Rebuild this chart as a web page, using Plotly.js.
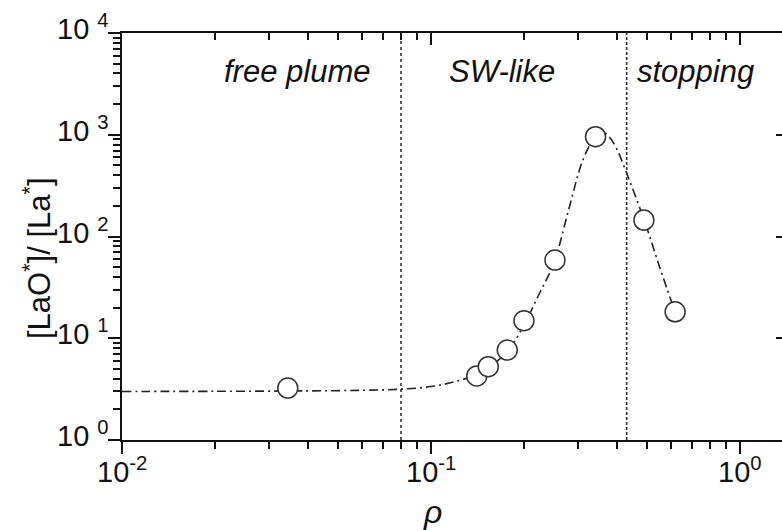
<!DOCTYPE html>
<html>
<head>
<meta charset="utf-8">
<script src="https://cdn.plot.ly/plotly-3.0.1.min.js"></script>
<style>
  html, body { margin: 0; padding: 0; overflow: hidden; background: #fff; width: 782px; height: 530px; }
  #chart { width: 800px; height: 530px; }
</style>
</head>
<body>
<div id="chart"></div>
<script>
// Measured points
const rho = [0.0344, 0.1407, 0.1533, 0.1766, 0.200, 0.252, 0.341, 0.489, 0.617];
const ratio = [3.24, 4.26, 5.25, 7.66, 14.9, 58.7, 957, 145, 18.2];

// Fit curve (dash-dot)
const fitRho = [0.01, 0.02, 0.04, 0.06, 0.08, 0.1, 0.12, 0.14, 0.16, 0.18, 0.2, 0.225, 0.25, 0.28, 0.31, 0.34, 0.36, 0.38, 0.4, 0.425, 0.49, 0.55, 0.617];
const fitRatio = [3.0, 3.01, 3.04, 3.08, 3.16, 3.35, 3.75, 4.4, 5.6, 8.0, 13.5, 28, 55, 190, 560, 950, 1060, 930, 720, 460, 145, 50, 18];

// Regime boundaries
const boundaryRho = [0.08, 0.43];
const boundaryDash = ['dot', '3px,2px'];

// Regime labels
const regimeLabels = ['free plume', 'SW-like', 'stopping'];

// Axis titles
const xTitle = '<i>ρ</i>';
const yTitle = '[LaO<sup>*</sup>]/ [La<sup>*</sup>]';

// Ticks and tick labels
const yTickVals = [1, 10, 100, 1000, 10000];
const yTickText = ['10 <sup>0</sup>', '10 <sup>1</sup>', '10 <sup>2</sup>', '10 <sup>3</sup>', '10 <sup>4</sup>'];
const xTickVals = [0.01, 0.1, 1];
const xTickText = ['10<sup>-2</sup>', '10<sup>-1</sup>', '10<sup>0</sup>'];
const yMinorVals = [2, 3, 4, 5, 6, 7, 8, 9, 20, 30, 40, 50, 60, 70, 80, 90, 200, 300, 400, 500, 600, 700, 800, 900, 2000, 3000, 4000, 5000, 6000, 7000, 8000, 9000];
const xMinorVals = [0.02, 0.03, 0.04, 0.05, 0.06, 0.07, 0.08, 0.09, 0.2, 0.3, 0.4, 0.5, 0.6, 0.7, 0.8, 0.9, 2, 3, 4, 5];

const xRange = [-2, Math.log10(1.41)];
const yRange = [0, 4];
const FONT = 'Liberation Sans, Arial, sans-serif';
const INK = '#111';

const traces = [];
boundaryRho.forEach((b, i) => {
  traces.push({
    x: [b, b], y: [yTickVals[0], yTickVals[yTickVals.length - 1]],
    xaxis: 'x2', yaxis: 'y2',
    mode: 'lines', line: {color: '#333', width: 1.6, dash: boundaryDash[i]},
    hoverinfo: 'skip', showlegend: false
  });
});
traces.push({
  x: fitRho, y: fitRatio, mode: 'lines',
  line: {color: '#222', width: 1.6, dash: '9px,4px,2px,4px', shape: 'spline', smoothing: 1},
  showlegend: false, hoverinfo: 'skip'
});
traces.push({
  x: rho, y: ratio, mode: 'markers',
  marker: {symbol: 'circle', size: 20, color: '#fff', line: {color: '#333', width: 1.5}},
  showlegend: false
});

const annotations = [];
const annX = [0.2636, 0.572, 0.864];
regimeLabels.forEach((t, i) => annotations.push({
  text: '<i>' + t + '</i>', xref: 'paper', yref: 'paper', x: annX[i], y: 0.905,
  showarrow: false, font: {family: FONT, size: 31, color: INK}, xanchor: 'center', yanchor: 'middle'
}));
annotations.push({
  text: yTitle, xref: 'paper', yref: 'paper', x: -0.128, y: 0.447, textangle: -90,
  showarrow: false, font: {family: FONT, size: 31, color: INK}, xanchor: 'center', yanchor: 'middle'
});
annotations.push({
  text: xTitle, xref: 'paper', yref: 'paper', x: 0.467, y: -0.177,
  showarrow: false, font: {family: FONT, size: 32, color: INK}, xanchor: 'center', yanchor: 'middle'
});
// tick labels
xTickVals.forEach((v, i) => annotations.push({
  text: xTickText[i], xref: 'x', yref: 'paper', x: Math.log10(v), y: -0.074,
  showarrow: false, font: {family: FONT, size: 29, color: INK}, xanchor: 'center', yanchor: 'middle'
}));
yTickVals.forEach((v, i) => annotations.push({
  text: yTickText[i], xref: 'paper', yref: 'y', x: -0.017, y: Math.log10(v), yshift: 6,
  showarrow: false, font: {family: FONT, size: 29, color: INK}, xanchor: 'right', yanchor: 'middle'
}));

const layout = {
  width: 800, height: 530,
  margin: {l: 122, r: 14, t: 33, b: 90},
  paper_bgcolor: '#fff', plot_bgcolor: '#fff',
  font: {family: FONT, color: INK, size: 22},
  xaxis: {type: 'log', range: xRange, showgrid: false, zeroline: false, showline: true,
    linecolor: INK, linewidth: 2, showticklabels: false,
    tickmode: 'array', tickvals: xTickVals, ticks: 'outside', ticklen: 12, tickwidth: 2, tickcolor: INK,
    minor: {tickmode: 'array', tickvals: xMinorVals, ticks: 'outside', ticklen: 7, tickwidth: 2, tickcolor: INK}},
  xaxis2: {type: 'log', range: xRange, overlaying: 'x', side: 'top', anchor: 'y2',
    showgrid: false, zeroline: false, showline: true, linecolor: INK, linewidth: 2, showticklabels: false,
    tickmode: 'array', tickvals: xTickVals, ticks: 'inside', ticklen: 12, tickwidth: 2, tickcolor: INK,
    minor: {tickmode: 'array', tickvals: xMinorVals, ticks: 'inside', ticklen: 7, tickwidth: 2, tickcolor: INK}},
  yaxis: {type: 'log', range: yRange, showgrid: false, zeroline: false, showline: true,
    linecolor: INK, linewidth: 2, showticklabels: false,
    tickmode: 'array', tickvals: yTickVals, ticks: 'outside', ticklen: 12, tickwidth: 2, tickcolor: INK,
    minor: {tickmode: 'array', tickvals: yMinorVals, ticks: 'outside', ticklen: 7, tickwidth: 2, tickcolor: INK}},
  yaxis2: {type: 'log', range: yRange, overlaying: 'y', side: 'right', anchor: 'x2',
    showgrid: false, zeroline: false, showline: true, linecolor: INK, linewidth: 2, showticklabels: false,
    tickmode: 'array', tickvals: yTickVals, ticks: 'inside', ticklen: 10, tickwidth: 2, tickcolor: INK},
  annotations: annotations
};

Plotly.newPlot('chart', traces, layout, {displayModeBar: false, staticPlot: true});
</script>
</body>
</html>
